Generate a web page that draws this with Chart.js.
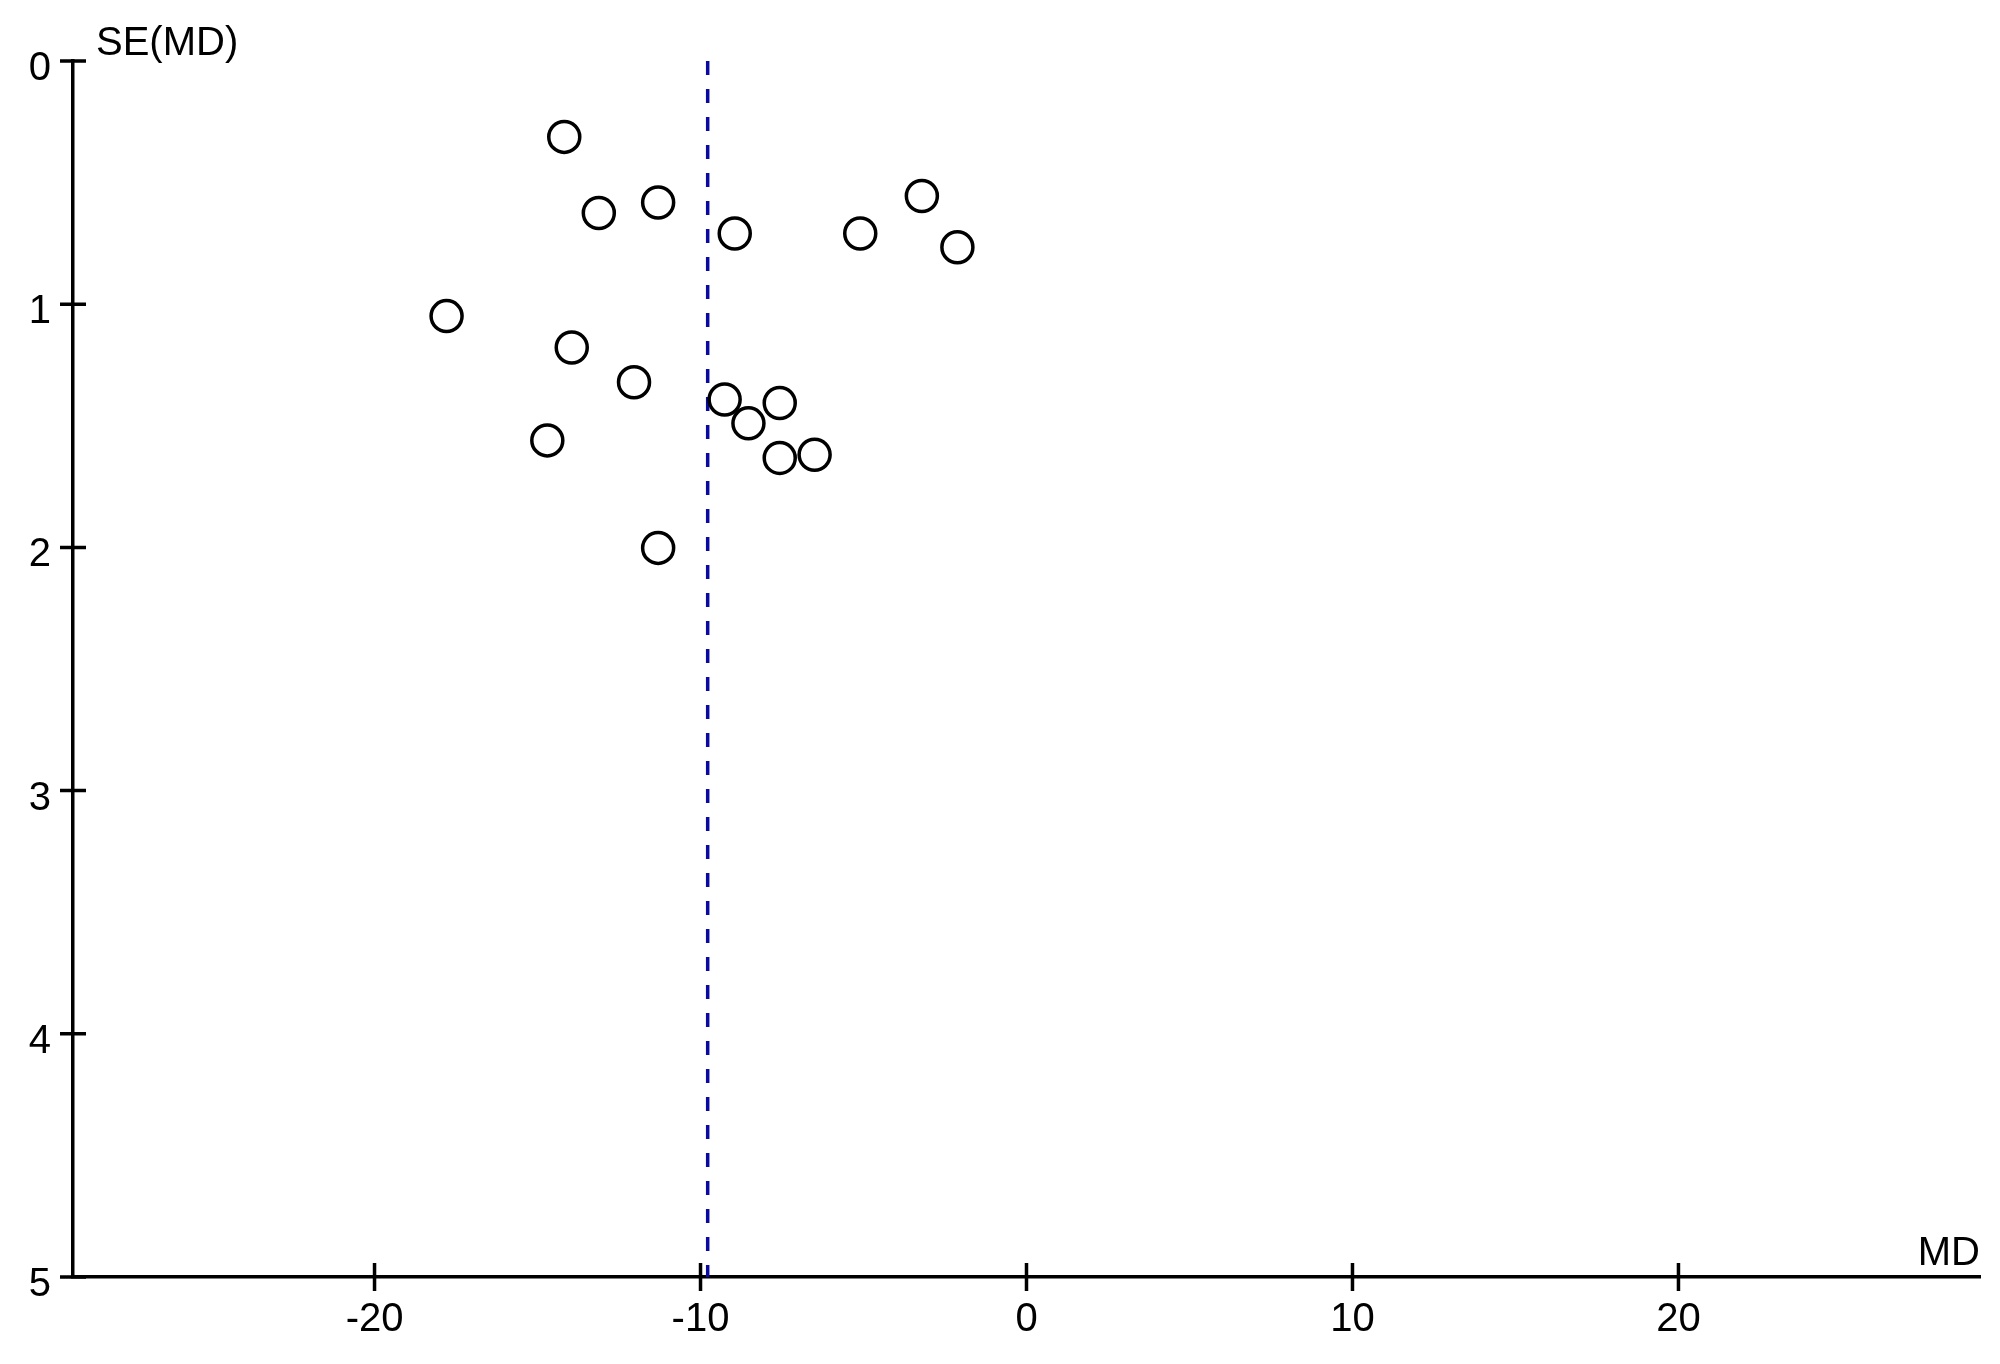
<!DOCTYPE html>
<html>
<head>
  <meta charset="UTF-8" />
  <title>Funnel plot SE(MD) vs MD</title>
  <script src="https://cdn.jsdelivr.net/npm/chart.js"></script>
  <style>
    body {
      margin: 0;
      background-color: #fff;
    }
    #chartContainer {
      width: 2000px;
      height: 1364px;
    }
  </style>
</head>
<body>

  <div id="chartContainer">
    <canvas id="funnelChart" width="2000" height="1364"></canvas>
  </div>

  <script>
    // study estimates
    const mdValues = [-14.18, -13.12, -11.30, -8.95, -5.10, -3.21, -2.12, -17.79, -13.95,
                      -12.04, -9.26, -7.57, -8.53, -14.70, -7.57, -6.50, -11.30];
    const seValues = [0.312, 0.625, 0.582, 0.709, 0.709, 0.555, 0.766, 1.049, 1.178,
                      1.321, 1.392, 1.406, 1.490, 1.560, 1.632, 1.619, 2.002];
    const pooledMD = -9.78;
    const seRange = [0, 5];
    const xTicks = [-20, -10, 0, 10, 20];
    const yTicks = [0, 1, 2, 3, 4, 5];

    const FONT = '"Liberation Sans", Arial, sans-serif';

    const points = mdValues.map((md, i) => ({ x: md, y: seValues[i] }));
    const pooledLine = seRange.map(se => ({ x: pooledMD, y: se }));

    // ticks cross the axis line, and the axis titles sit at the ends
    const axisDecor = {
      id: 'axisDecor',
      afterDraw(chart) {
        const { ctx, chartArea: a, scales: { x, y } } = chart;
        ctx.save();
        ctx.strokeStyle = '#000';
        ctx.lineWidth = 3.5;
        ctx.beginPath();
        yTicks.forEach(v => {
          const py = y.getPixelForValue(v);
          ctx.moveTo(a.left - 13, py);
          ctx.lineTo(a.left + 13, py);
        });
        xTicks.forEach(v => {
          const px = x.getPixelForValue(v);
          ctx.moveTo(px, a.bottom - 14);
          ctx.lineTo(px, a.bottom + 14);
        });
        ctx.stroke();

        ctx.fillStyle = '#000';
        ctx.font = '40px ' + FONT;
        ctx.textBaseline = 'alphabetic';
        ctx.textAlign = 'left';
        ctx.fillText('SE(MD)', a.left + 23, a.top - 6);
        ctx.textAlign = 'right';
        ctx.fillText('MD', a.right, a.bottom - 12);
        ctx.restore();
      }
    };

    const ctx = document.getElementById('funnelChart').getContext('2d');
    new Chart(ctx, {
      type: 'scatter',
      data: {
        datasets: [
          {
            label: 'Pooled MD',
            type: 'line',
            data: pooledLine,
            borderColor: '#0a0aa0',
            borderWidth: 3.5,
            borderDash: [14, 14],
            pointRadius: 0,
            fill: false,
            order: 2
          },
          {
            label: 'Studies',
            data: points,
            pointStyle: 'circle',
            pointRadius: 15.5,
            pointHoverRadius: 15.5,
            borderColor: '#000',
            borderWidth: 3.5,
            backgroundColor: 'rgba(0,0,0,0)',
            order: 1
          }
        ]
      },
      options: {
        responsive: false,
        devicePixelRatio: 1,
        animation: false,
        layout: {
          padding: { top: 61, right: 20, left: 0, bottom: 0 }
        },
        plugins: {
          legend: { display: false },
          tooltip: { enabled: false }
        },
        scales: {
          x: {
            type: 'linear',
            position: 'bottom',
            min: -29.25,
            max: 29.25,
            afterBuildTicks: s => { s.ticks = xTicks.map(v => ({ value: v })); },
            afterFit: s => { s.height = 87; },
            grid: { display: false, drawTicks: true, tickLength: 14 },
            border: { display: true, color: '#000', width: 3.5 },
            ticks: {
              color: '#000',
              font: { family: FONT, size: 40 },
              padding: 5,
              maxRotation: 0,
              autoSkip: false
            }
          },
          y: {
            type: 'linear',
            position: 'left',
            reverse: true,
            min: seRange[0],
            max: seRange[1],
            afterBuildTicks: s => { s.ticks = yTicks.map(v => ({ value: v })); },
            afterFit: s => { s.width = 73; },
            grid: { display: false, drawTicks: true, tickLength: 13 },
            border: { display: true, color: '#000', width: 3.5 },
            ticks: {
              color: '#000',
              font: { family: FONT, size: 40 },
              padding: 9,
              labelOffset: 8,
              autoSkip: false
            }
          }
        }
      },
      plugins: [axisDecor]
    });
  </script>
</body>
</html>
